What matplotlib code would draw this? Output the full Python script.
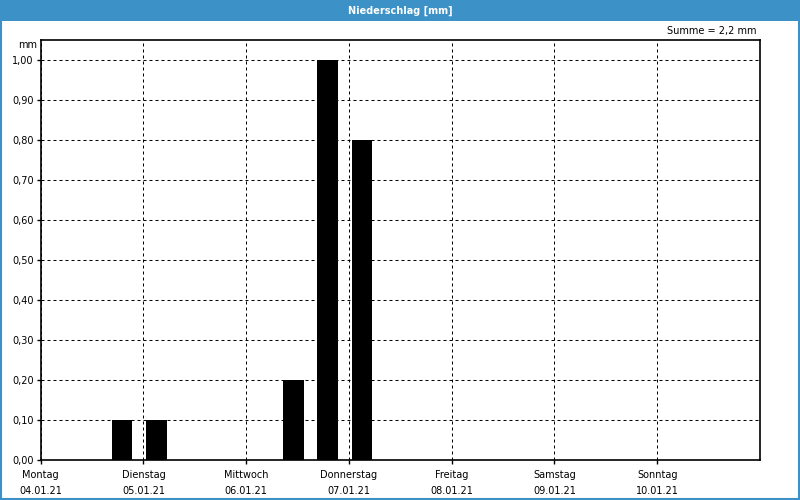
import numpy as np
import matplotlib.pyplot as plt
from matplotlib.patches import Rectangle

# 8-hour precipitation sums, slot centres in hours since Monday 00:00
slot_hours = [3, 11, 19, 27, 35, 43, 51, 59, 67, 75, 83, 91, 99, 107,
              115, 123, 131, 139, 147, 155, 163]
precip_mm = [0.0, 0.0, 0.1, 0.1, 0.0, 0.0, 0.0, 0.2, 1.0, 0.8, 0.0, 0.0,
             0.0, 0.0, 0.0, 0.0, 0.0, 0.0, 0.0, 0.0, 0.0]
day_names = ["Montag", "Dienstag", "Mittwoch", "Donnerstag", "Freitag", "Samstag", "Sonntag"]
day_dates = ["04.01.21", "05.01.21", "06.01.21", "07.01.21", "08.01.21", "09.01.21", "10.01.21"]
y_ticks = [0.0, 0.1, 0.2, 0.3, 0.4, 0.5, 0.6, 0.7, 0.8, 0.9, 1.0]

blue = "#3c91c6"
fs = 7

fig = plt.figure(figsize=(8, 5), dpi=100)
fig.patch.set_facecolor("white")

# title bar and frame
fig.patches.append(Rectangle((0, 0.958), 1, 0.042, transform=fig.transFigure,
                             facecolor=blue, edgecolor="none", zorder=0))
fig.patches.append(Rectangle((0.001, 0.002), 0.998, 0.996, transform=fig.transFigure,
                             facecolor="none", edgecolor=blue, linewidth=1.5, zorder=0))
fig.text(0.5, 0.979, "Niederschlag [mm]", color="white", fontsize=fs,
         fontweight="bold", ha="center", va="center")

ax = fig.add_axes([0.0509, 0.0794, 0.8991, 0.84])
days = np.array(slot_hours) / 24.0
ax.bar(days, precip_mm, width=0.2, color="black", zorder=3)

ax.set_xlim(0, 7)
ax.set_ylim(0, 1.05)
ax.set_yticks(y_ticks)
ax.set_yticklabels([f"{v:.2f}".replace(".", ",") for v in y_ticks], fontsize=fs)
ax.set_xticks(range(7))
ax.set_xticklabels([f"{n}\n{d}" for n, d in zip(day_names, day_dates)],
                   fontsize=fs, linespacing=1.75)
ax.tick_params(axis="both", length=3, width=1, color="black", pad=2)
ax.tick_params(axis="x", pad=4)

ax.grid(True, color="black", linestyle=(0, (3, 3)), linewidth=0.72, zorder=1)
for s in ax.spines.values():
    s.set_linewidth(1.2)
    s.set_zorder(4)

fig.text(0.046, 0.91, "mm", fontsize=fs, ha="right", va="center")
fig.text(0.946, 0.938, "Summe = 2,2 mm", fontsize=fs, ha="right", va="center")

fig.savefig("out.png", dpi=100)
